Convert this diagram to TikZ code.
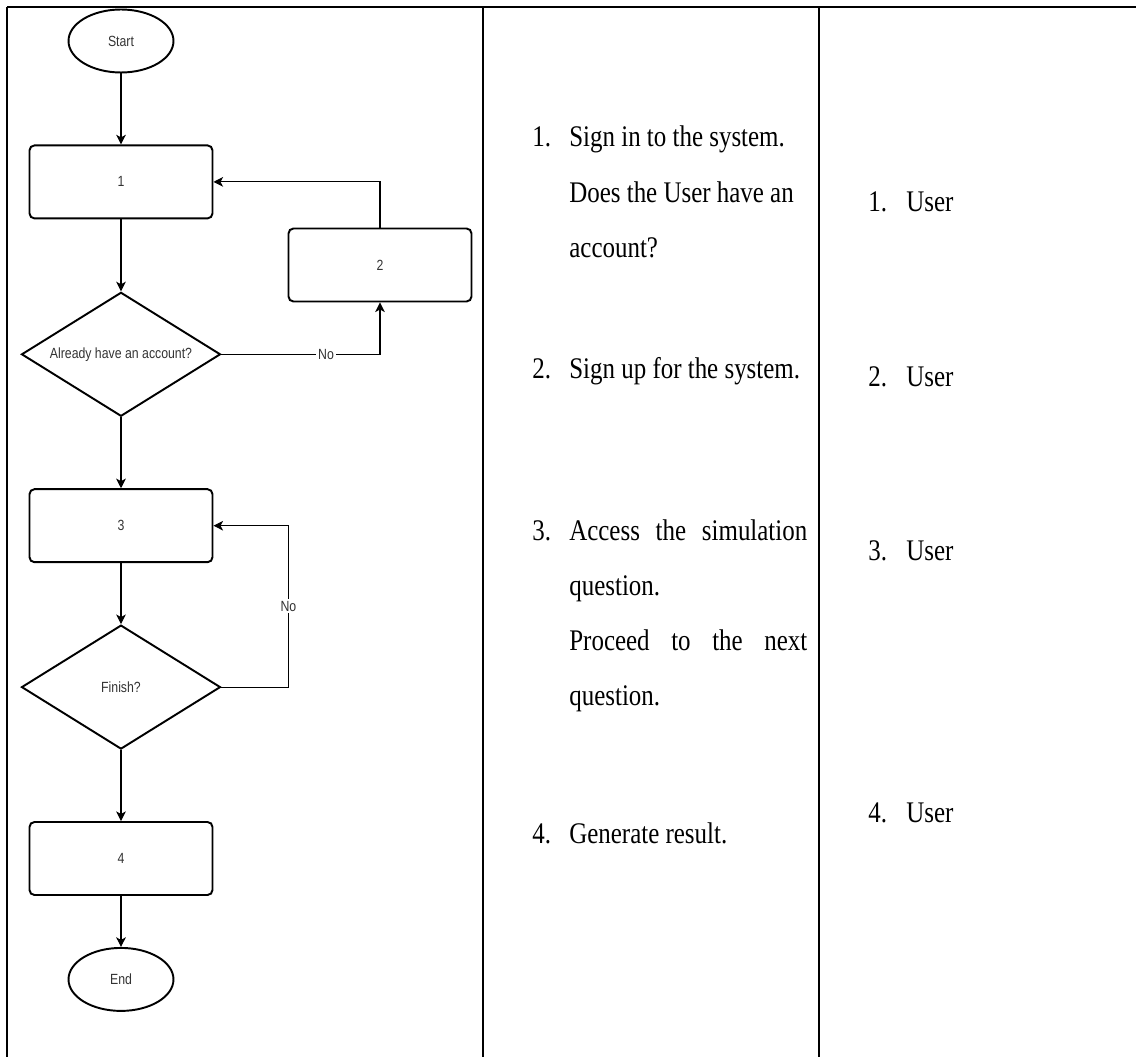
\documentclass[tikz,border=0pt]{standalone}
\usepackage{fontspec}
\setmainfont{Liberation Serif}
\newfontfamily\flowfont{Liberation Sans}
\usetikzlibrary{arrows.meta,positioning,shapes.geometric}

\definecolor{labelgray}{HTML}{333333}
% text in the table is set a little taller than wide
\newcommand{\tallbox}[1]{\scalebox{1}[1.2]{#1}}

\begin{document}
\begin{tikzpicture}
[x=0.02cm, y=-0.02cm,
% STYLES
every node/.style={inner sep=0pt},
% flowchart shapes
terminal/.style={ellipse, draw, line width=1.1pt, minimum width=2.1cm, minimum height=1.26cm, font=\flowfont\fontsize{7}{8}\selectfont, text=labelgray},
process/.style={rectangle, draw, rounded corners=2.8pt, line width=1.1pt, minimum width=3.66cm, minimum height=1.46cm, font=\flowfont\fontsize{7}{8}\selectfont, text=labelgray},
decision/.style={diamond, draw, aspect=1.6, inner sep=2pt, line width=1.1pt, minimum width=3.98cm, minimum height=2.48cm, font=\flowfont\fontsize{7}{8}\selectfont, text=labelgray},
branch/.style={fill=white, inner sep=1pt, font=\flowfont\fontsize{7}{8}\selectfont, text=labelgray},
flow/.style={-{Stealth[length=5.5pt,width=5.5pt,inset=1.5pt]}, line width=0.6pt},
% table columns
rule/.style={line width=1.1pt},
cell/.style={anchor=base west, font=\fontsize{14.2}{26.1}\selectfont}]

\useasboundingbox (0,0) rectangle (1136,1057);

% table frame
\draw[rule] (7,7) -- (1136,7);
\draw[rule] (7,7) -- (7,1057);
\draw[rule] (483,7) -- (483,1057);
\draw[rule] (819,7) -- (819,1057);

% flowchart
\node [terminal] (start) at (121,41) {\tallbox{Start}};
\node [process, below=1.42cm of start] (box1) {\tallbox{1}};
\node [decision, below=1.44cm of box1] (ask) {\tallbox{Already have an account?}};
\node [process] (box2) at (380,265) {\tallbox{2}};
\node [process, below=1.42cm of ask] (box3) {\tallbox{3}};
\node [decision, below=1.22cm of box3] (finish) {\tallbox{Finish?}};
\node [process, below=1.42cm of finish] (box4) {\tallbox{4}};
\node [terminal, below=1.02cm of box4] (end) {\tallbox{End}};

\draw[flow] (start) -- (box1);
\draw[flow] (box1) -- (ask);
\draw[flow] (ask) -- (box3);
\draw[flow] (box3) -- (finish);
\draw[flow] (finish) -- (box4);
\draw[flow] (box4) -- (end);
\draw[flow] (ask.east) -| node[branch, pos=0.33] {\tallbox{No}} (box2.south);
\draw[flow] (box2.north) |- (box1.east);
\draw[flow] (finish.east) -- ++(67,0) |- node[branch, pos=0.25] {\tallbox{No}} (box3.east);

% steps
\node [cell] (step1) at (532,147) {\tallbox{\makebox[0.74cm][l]{1.}\parbox[t]{4.76cm}{Sign in to the system.\\Does the User have an\\account?}}};
\node [cell] (step2) at (532,378) {\tallbox{\makebox[0.74cm][l]{2.}Sign up for the system.}};
\node [cell] (step3) at (532,540) {\tallbox{\makebox[0.74cm][l]{3.}\parbox[t]{4.76cm}{Access the simulation\linebreak question.\par Proceed to the next\linebreak question.}}};
\node [cell] (step4) at (532,843) {\tallbox{\makebox[0.74cm][l]{4.}Generate result.}};

% who does it
\node [cell] (user1) at (868,212) {\tallbox{\makebox[0.76cm][l]{1.}User}};
\node [cell] (user2) at (868,387) {\tallbox{\makebox[0.76cm][l]{2.}User}};
\node [cell] (user3) at (868,560) {\tallbox{\makebox[0.76cm][l]{3.}User}};
\node [cell] (user4) at (868,822) {\tallbox{\makebox[0.76cm][l]{4.}User}};

\end{tikzpicture}
\end{document}
